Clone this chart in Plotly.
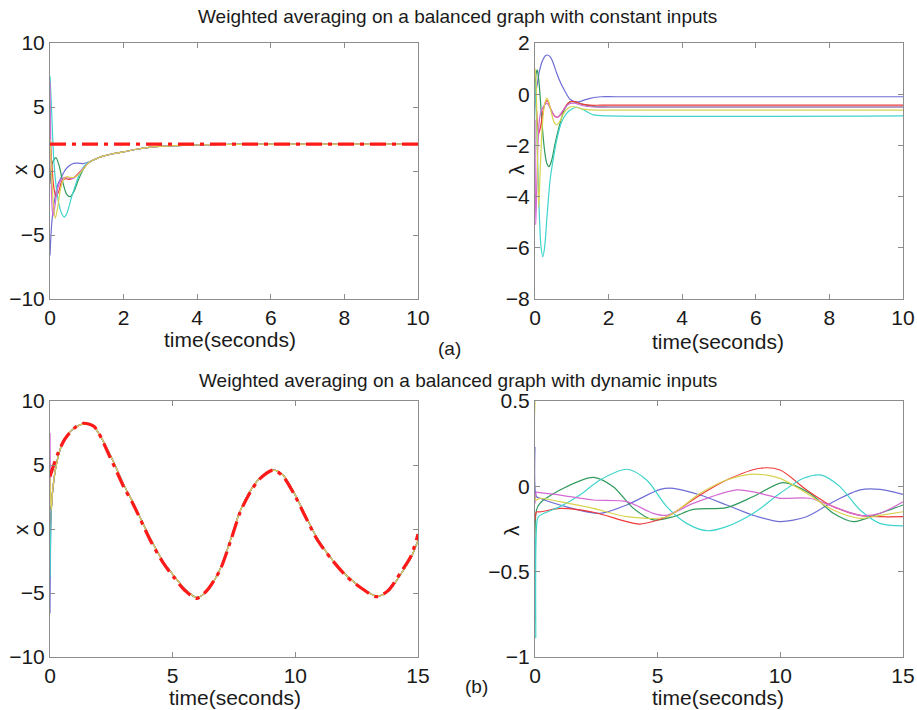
import plotly.graph_objects as go

# ---------------- data: (a) constant inputs, x states ----------------
a_ref_t = [0, 10]
a_ref_v = [2.1, 2.1]
a_tail_t = [1.1, 1.25, 1.4, 1.7, 2.0, 2.35, 2.7, 3.1, 3.6, 4.2, 5.0, 6.5, 8.0, 10.0]
a_tail_v = [0.75, 0.95, 1.12, 1.35, 1.5, 1.7, 1.85, 1.94, 2.0, 2.05, 2.08, 2.1, 2.1, 2.1]

ax_blue_t = [0, 0.05, 0.14, 0.22, 0.32, 0.42, 0.5, 0.6, 0.7, 0.8, 0.9, 1.0]
ax_blue_v = [-6.6, -4.0, -2.0, -1.0, -0.4, 0.1, 0.35, 0.55, 0.62, 0.6, 0.58, 0.65]
ax_green_t = [0, 0.06, 0.16, 0.25, 0.35, 0.45, 0.55, 0.65, 0.77, 0.9, 1.0]
ax_green_v = [-1.0, 0.6, 1.05, 0.4, -0.9, -1.8, -2.0, -1.6, -0.7, 0.1, 0.5]
ax_red_t = [0, 0.05, 0.1, 0.16, 0.25, 0.32, 0.42, 0.5, 0.6, 0.68, 0.8, 0.9, 1.0]
ax_red_v = [2.8, 0.5, -1.2, -2.0, -1.5, -0.8, -0.6, -0.65, -0.6, -0.45, -0.1, 0.2, 0.5]
ax_cyan_t = [0, 0.04, 0.1, 0.18, 0.26, 0.33, 0.39, 0.46, 0.59, 0.68, 0.77, 0.86, 0.95, 1.03]
ax_cyan_v = [7.4, 5.0, 1.0, -1.5, -2.8, -3.4, -3.6, -3.3, -2.0, -1.2, -0.45, 0.1, 0.45, 0.65]
ax_mag_t = [0, 0.02, 0.05, 0.08, 0.12, 0.2, 0.3, 0.4, 0.5, 0.6, 0.7, 0.8, 0.9, 1.0]
ax_mag_v = [7.0, 2.0, -2.5, -3.5, -3.0, -1.5, -0.7, -0.5, -0.55, -0.6, -0.45, -0.15, 0.2, 0.5]
ax_yel_t = [0, 0.04, 0.09, 0.14, 0.2, 0.28, 0.36, 0.45, 0.55, 0.65, 0.75, 0.85, 0.95, 1.03]
ax_yel_v = [2.5, 0.0, -2.5, -3.7, -3.0, -1.5, -0.7, -0.45, -0.5, -0.5, -0.35, -0.05, 0.3, 0.6]

# ---------------- data: (a) constant inputs, lambda ----------------
al_blue_t = [0, 0.05, 0.12, 0.2, 0.28, 0.34, 0.42, 0.5, 0.59, 0.68, 0.77, 0.86, 0.95, 1.1, 1.22, 1.35, 1.5, 1.65, 1.8, 2.2, 10]
al_blue_v = [0.0, 0.3, 0.9, 1.3, 1.5, 1.53, 1.45, 1.2, 0.82, 0.5, 0.23, 0.0, -0.2, -0.3, -0.29, -0.22, -0.16, -0.12, -0.1, -0.1, -0.1]
al_red_t = [0, 0.04, 0.1, 0.16, 0.24, 0.32, 0.36, 0.42, 0.5, 0.6, 0.7, 0.8, 0.9, 1.0, 1.1, 1.25, 1.5, 1.8, 10]
al_red_v = [0.3, -0.6, -1.55, -1.2, -0.5, -0.25, -0.3, -0.55, -0.8, -0.9, -0.8, -0.55, -0.35, -0.28, -0.3, -0.38, -0.43, -0.43, -0.43]
al_mag_t = [0, 0.02, 0.05, 0.08, 0.12, 0.18, 0.25, 0.32, 0.38, 0.45, 0.55, 0.62, 0.75, 0.9, 1.05, 1.3, 1.6, 2.0, 10]
al_mag_v = [-1.0, -5.1, -3.5, -2.0, -1.0, -0.6, -0.45, -0.35, -0.45, -0.65, -0.88, -0.9, -0.65, -0.4, -0.35, -0.45, -0.5, -0.5, -0.5]
al_yel_t = [0, 0.03, 0.06, 0.1, 0.14, 0.2, 0.26, 0.32, 0.36, 0.44, 0.52, 0.59, 0.68, 0.8, 0.95, 1.1, 1.3, 1.6, 2.0, 10]
al_yel_v = [1.0, 0.5, -2.0, -4.4, -3.0, -1.2, -0.4, -0.15, -0.25, -0.7, -1.1, -1.2, -1.05, -0.7, -0.5, -0.5, -0.58, -0.62, -0.62, -0.62]
al_green_t = [0, 0.03, 0.06, 0.1, 0.15, 0.2, 0.26, 0.32, 0.38, 0.45, 0.55, 0.68, 0.8, 0.95, 1.1, 1.3, 1.6, 2.0, 10]
al_green_v = [0.3, 0.8, 0.95, 0.6, -0.3, -1.3, -2.2, -2.7, -2.83, -2.6, -1.9, -1.14, -0.6, -0.3, -0.3, -0.4, -0.48, -0.5, -0.5]
al_cyan_t = [0, 0.04, 0.08, 0.12, 0.16, 0.21, 0.26, 0.32, 0.41, 0.5, 0.59, 0.72, 0.86, 1.0, 1.13, 1.3, 1.59, 2.0, 10]
al_cyan_v = [0.5, -1.0, -3.0, -4.8, -5.9, -6.35, -6.0, -4.9, -3.35, -2.5, -1.79, -1.1, -0.75, -0.58, -0.51, -0.6, -0.81, -0.85, -0.85]

# ---------------- data: (b) dynamic inputs, x states ----------------
b_ref_t = [0, 0.3, 0.6, 1.0, 1.36, 1.8, 2.45, 3.0, 3.4, 4.08, 4.6, 5.03, 5.5, 5.98, 6.4, 6.93, 7.35, 7.75, 8.2, 8.57,
           9.11, 9.5, 9.93, 10.4, 10.9, 11.5, 12.1, 12.7, 13.32, 13.8, 14.27, 14.7, 15.0]
b_ref_v = [4.1, 5.8, 7.0, 7.9, 8.26, 8.0, 5.6, 3.3, 1.9, -0.86, -2.6, -3.73, -4.8, -5.42, -4.8, -3.2, -1.0, 1.3, 3.0, 3.95,
           4.61, 4.1, 2.79, 1.0, -0.86, -2.42, -3.73, -4.63, -5.29, -4.77, -3.46, -2.16, -0.4]
b_cons_t = [0.05, 0.1, 0.2, 0.35, 0.6, 1.0, 1.36, 1.8, 2.45, 3.0, 3.4, 4.08, 4.6, 5.03, 5.5, 5.98, 6.4, 6.93, 7.35, 7.75,
            8.2, 8.57, 9.11, 9.5, 9.93, 10.4, 10.9, 11.5, 12.1, 12.7, 13.32, 13.8, 14.27, 14.7, 15.0]
b_cons_v = [1.5, 2.8, 4.4, 5.8, 7.1, 7.9, 8.2, 7.95, 5.8, 3.5, 2.0, -0.7, -2.5, -3.6, -4.7, -5.35, -4.85, -3.15, -0.9, 1.4,
            3.1, 4.0, 4.6, 4.2, 2.9, 1.1, -0.75, -2.4, -3.65, -4.6, -5.25, -4.85, -3.6, -2.3, -0.9]
b_init = {"blue": -6.6, "green": 1.8, "red": -1.0, "cyan": -3.8, "magenta": 7.5, "yellow": 4.0}

# ---------------- data: (b) dynamic inputs, lambda ----------------
bl_blue_t = [0, 0.06, 0.2, 1.29, 2.65, 3.74, 5.1, 5.64, 6.73, 7.81, 8.9, 9.99, 11.07, 12.16, 13.25, 14.06, 15]
bl_blue_v = [0.23, -0.06, -0.07, -0.12, -0.158, -0.109, -0.018, -0.012, -0.051, -0.109, -0.17, -0.207, -0.178, -0.09, -0.021, -0.018, -0.047]
bl_green_t = [0, 0.06, 0.2, 1.02, 2.38, 3.19, 4.01, 4.82, 5.64, 6.45, 7.81, 8.9, 10.12, 11.2, 12.16, 12.98, 14.06, 15]
bl_green_v = [-0.6, -0.14, -0.1, -0.021, 0.053, -0.002, -0.129, -0.197, -0.178, -0.135, -0.125, -0.06, 0.022, -0.041, -0.158, -0.207, -0.158, -0.109]
bl_red_t = [0, 0.06, 0.2, 1.02, 2.38, 3.74, 4.28, 5.37, 6.73, 7.81, 9.17, 9.99, 11.07, 12.16, 13.25, 14.06, 15]
bl_red_v = [-0.2, -0.15, -0.15, -0.129, -0.152, -0.207, -0.221, -0.178, -0.051, 0.037, 0.106, 0.096, -0.021, -0.119, -0.17, -0.178, -0.178]
bl_cyan_t = [0, 0.03, 0.1, 0.2, 1.02, 1.83, 2.65, 3.74, 4.55, 5.37, 6.18, 7.0, 7.81, 8.9, 9.99, 10.94, 11.68, 12.43, 13.25, 14.06, 15]
bl_cyan_v = [-0.3, -0.89, -0.19, -0.17, -0.119, -0.051, 0.037, 0.1, 0.037, -0.119, -0.217, -0.26, -0.236, -0.158, -0.041, 0.047, 0.066, -0.002, -0.139, -0.217, -0.232]
bl_mag_t = [0, 0.06, 0.2, 1.02, 2.38, 3.74, 4.82, 5.37, 6.45, 8.22, 9.17, 9.99, 11.2, 12.16, 13.25, 14.06, 15]
bl_mag_v = [-0.1, -0.035, -0.037, -0.051, -0.08, -0.09, -0.158, -0.17, -0.1, -0.021, -0.041, -0.07, -0.07, -0.119, -0.17, -0.158, -0.09]
bl_yel_t = [0, 0.04, 0.2, 1.02, 2.38, 3.74, 5.37, 6.73, 7.81, 8.9, 9.99, 11.07, 12.16, 13.25, 14.06, 15]
bl_yel_v = [0.5, -0.08, -0.07, -0.09, -0.129, -0.178, -0.178, -0.041, 0.037, 0.072, 0.047, -0.041, -0.139, -0.188, -0.17, -0.149]

COL = {"blue": "#6e6ed6", "green": "#2f9a5c", "red": "#f03a3a", "cyan": "#3fd4cc",
       "magenta": "#d46ad4", "yellow": "#d8d24e"}
REF = "#ff1a1a"
FONT = "Liberation Sans, Arial, Helvetica, sans-serif"

fig = go.Figure()


def line(x, y, color, ax, width=1.2, dash=None, shape="spline"):
    fig.add_trace(go.Scatter(x=x, y=y, mode="lines", xaxis="x" + ax, yaxis="y" + ax,
                             line=dict(color=color, width=width, dash=dash, shape=shape, smoothing=0.8),
                             showlegend=False, hoverinfo="skip"))


# (a) x
for t, v, c in [(ax_blue_t, ax_blue_v, "blue"), (ax_green_t, ax_green_v, "green"), (ax_red_t, ax_red_v, "red"),
                (ax_cyan_t, ax_cyan_v, "cyan"), (ax_mag_t, ax_mag_v, "magenta"), (ax_yel_t, ax_yel_v, "yellow")]:
    line(t + a_tail_t, v + a_tail_v, COL[c], "")
line(a_ref_t, a_ref_v, REF, "", width=3.2, dash="16px,6px,4px,6px", shape="linear")

# (a) lambda
for t, v, c in [(al_blue_t, al_blue_v, "blue"), (al_green_t, al_green_v, "green"), (al_red_t, al_red_v, "red"),
                (al_cyan_t, al_cyan_v, "cyan"), (al_mag_t, al_mag_v, "magenta"), (al_yel_t, al_yel_v, "yellow")]:
    line(t, v, COL[c], "2")

# (b) x
for c in ["blue", "green", "red", "cyan", "magenta", "yellow"]:
    line([0] + b_cons_t, [b_init[c]] + b_cons_v, COL[c], "3")
line(b_ref_t, b_ref_v, REF, "3", width=3.2, dash="16px,6px,4px,6px")

# (b) lambda
for t, v, c in [(bl_blue_t, bl_blue_v, "blue"), (bl_green_t, bl_green_v, "green"), (bl_red_t, bl_red_v, "red"),
                (bl_cyan_t, bl_cyan_v, "cyan"), (bl_mag_t, bl_mag_v, "magenta"), (bl_yel_t, bl_yel_v, "yellow")]:
    line(t, v, COL[c], "4")

W, H = 917, 710


def px(x):
    return x / W


def py(y):
    return 1 - y / H


xl = [px(50), px(418)]
xr = [px(535), px(903)]
yt = [py(299), py(43)]
yb = [py(657), py(401)]

axstyle = dict(showline=True, mirror="ticks", linecolor="#8c8c8c", linewidth=1, ticks="inside", ticklen=5,
               tickcolor="#8c8c8c", showgrid=False, zeroline=False, automargin=False,
               tickfont=dict(family=FONT, size=21, color="#1a1a1a"), fixedrange=True)

fig.update_layout(
    template="none",
    width=W, height=H, margin=dict(l=0, r=0, t=0, b=0, pad=0), autosize=False,
    paper_bgcolor="white", plot_bgcolor="white",
    xaxis=dict(domain=xl, anchor="y", range=[0, 10], tickvals=[0, 2, 4, 6, 8, 10], ticklabelstandoff=0, **axstyle),
    yaxis=dict(domain=yt, anchor="x", range=[-10, 10], tickvals=[-10, -5, 0, 5, 10], **axstyle),
    xaxis2=dict(domain=xr, anchor="y2", range=[0, 10], tickvals=[0, 2, 4, 6, 8, 10], ticklabelstandoff=0, **axstyle),
    yaxis2=dict(domain=yt, anchor="x2", range=[-8, 2], tickvals=[-8, -6, -4, -2, 0, 2], **axstyle),
    xaxis3=dict(domain=xl, anchor="y3", range=[0, 15], tickvals=[0, 5, 10, 15], ticklabelstandoff=0, **axstyle),
    yaxis3=dict(domain=yb, anchor="x3", range=[-10, 10], tickvals=[-10, -5, 0, 5, 10], **axstyle),
    xaxis4=dict(domain=xr, anchor="y4", range=[0, 15], tickvals=[0, 5, 10, 15], ticklabelstandoff=0, **axstyle),
    yaxis4=dict(domain=yb, anchor="x4", range=[-1, 0.5], tickvals=[-1, -0.5, 0, 0.5], **axstyle),
)


def txt(s, x, y, size=21, angle=0):
    fig.add_annotation(text=s, x=px(x), y=py(y), xref="paper", yref="paper", showarrow=False,
                       textangle=angle, xanchor="center", yanchor="middle",
                       font=dict(family=FONT, size=size, color="#1a1a1a"))


txt("Weighted averaging on a balanced graph with constant inputs", 457, 17, size=19)
txt("Weighted averaging on a balanced graph with dynamic inputs", 458, 381, size=19)
txt("time(seconds)", 230, 339)
txt("time(seconds)", 718, 341)
txt("time(seconds)", 235, 697)
txt("time(seconds)", 718, 697)
txt("x", 19, 170, angle=-90)
txt("λ", 516, 170, angle=-90)
txt("x", 20, 530, angle=-90)
txt("λ", 511, 531, angle=-90)
txt("(a)", 449, 348, size=19)
txt("(b)", 476, 686, size=19)

# the page's default body margin would shift the 917x710 figure; remove it so it fills the window
fig.write_html("out.html", config={"displayModeBar": False},
               post_script="document.body.style.margin='0';document.body.style.overflow='hidden';")
